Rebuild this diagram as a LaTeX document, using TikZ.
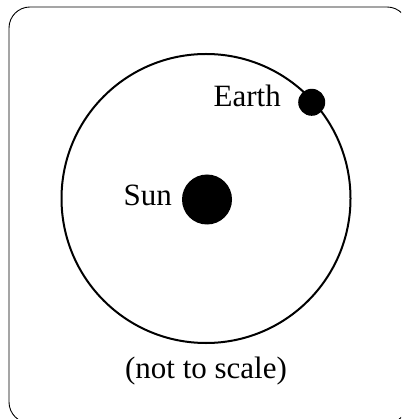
\documentclass[tikz,border=0pt]{standalone}
\usepackage{fontspec}
\setmainfont{Liberation Serif}
\usetikzlibrary{positioning}

\begin{document}
\begin{tikzpicture}[x=1pt, y=-1pt,
  body/.style={circle, fill=black, draw=none, inner sep=0pt},
  lbl/.style={font=\fontsize{31}{37}\selectfont, inner sep=0pt},
  orbit/.style={line width=2pt},
  frame/.style={line width=0.9pt, rounded corners=21pt},
]
\useasboundingbox (0,0) rectangle (401,419);

% Frame, cut off on the right and at the bottom
\begin{scope}
  \clip (0,0) rectangle (401,419);
  \draw[frame] (9,7) rectangle (408,423);
\end{scope}

% Orbit
\coordinate (centre) at (206,198.5);
\draw[orbit] (centre) circle[radius=144.5];

% Sun and Earth
\node[body, minimum size=50pt] (sun) at (207,199.5) {};
\node[body, minimum size=27pt] (earth) at (311.7,102.3) {};

% Labels
\node[lbl, anchor=base east] (sunlbl) at (172,205) {Sun};
\node[lbl, anchor=base east] (earthlbl) at (281,107) {Earth};
\node[lbl, anchor=base] (note) at (206,378) {(not to scale)};

\end{tikzpicture}
\end{document}
